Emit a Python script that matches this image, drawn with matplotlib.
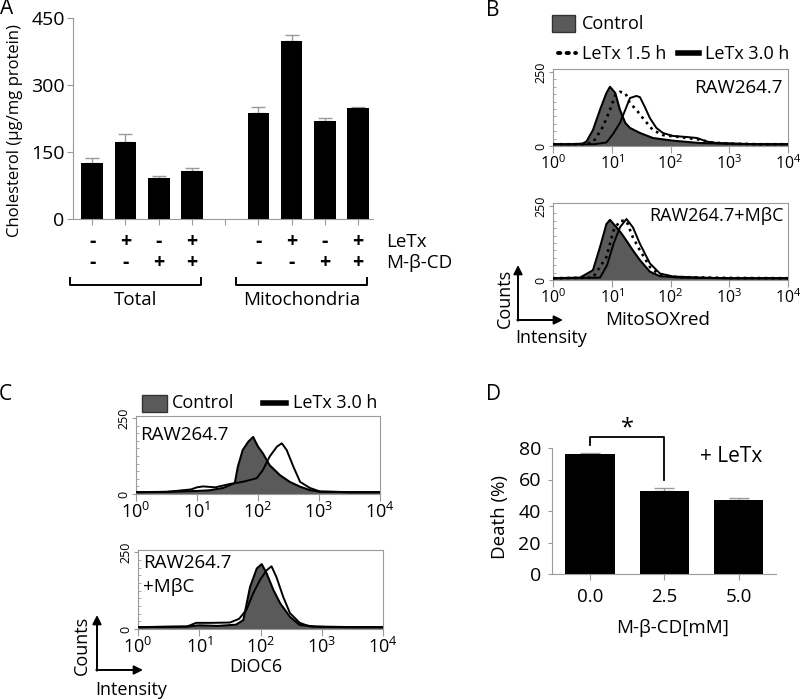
import numpy as np
import matplotlib
matplotlib.use("Agg")
import matplotlib.pyplot as plt
from matplotlib import transforms
from matplotlib.patches import Rectangle

plt.rcParams["font.family"] = ["Open Sans", "DejaVu Sans"]
plt.rcParams["mathtext.fontset"] = "custom"
plt.rcParams["mathtext.rm"] = "Open Sans"
plt.rcParams["mathtext.it"] = "Open Sans:italic"
plt.rcParams["mathtext.bf"] = "Open Sans:bold"

W, H = 800, 699
GRAY = "#9a9a9a"
FILL = "#5a5a5a"

# ── A : cholesterol ───────────────────────────────────────────
chol_pos  = [0, 1, 2, 3, 5, 6, 7, 8]
chol_mean = [126, 172, 92, 108, 237, 399, 220, 248]
chol_err  = [10, 18, 4, 6, 14, 13, 6, 3]
chol_letx = ["-", "+", "-", "+", "-", "+", "-", "+"]
chol_mbcd = ["-", "-", "+", "+", "-", "-", "+", "+"]
chol_groups = ["Total", "Mitochondria"]

# ── B : MitoSOXred histograms (log10 intensity, counts) ───────
b1_ctrl_log = [0.0, 0.3, 0.5, 0.57, 0.68, 0.80, 0.91, 0.97, 1.06, 1.14, 1.23, 1.31, 1.48, 1.70, 2.04, 2.5, 3.0, 3.5, 4.0]
b1_ctrl_cnt = [6, 6, 8, 15, 54, 122, 179, 200, 179, 122, 78, 61, 44, 27, 18, 10, 8, 6, 6]
b1_l15_log = [0.0, 0.5, 0.68, 0.85, 0.97, 1.06, 1.14, 1.23, 1.31, 1.42, 1.53, 1.70, 1.87, 2.16, 2.45, 2.7, 3.0, 3.5, 4.0]
b1_l15_cnt = [6, 6, 12, 65, 122, 172, 183, 179, 145, 122, 94, 54, 37, 30, 23, 12, 8, 6, 6]
b1_l30_log = [0.0, 0.7, 0.91, 1.02, 1.14, 1.23, 1.31, 1.42, 1.48, 1.56, 1.65, 1.76, 1.87, 2.04, 2.3, 2.45, 2.62, 2.8, 3.2, 4.0]
b1_l30_cnt = [6, 6, 12, 40, 78, 122, 162, 169, 165, 133, 94, 61, 44, 34, 30, 27, 15, 10, 7, 6]

b2_ctrl_log = [0.0, 0.46, 0.68, 0.80, 0.91, 0.97, 1.08, 1.17, 1.25, 1.36, 1.48, 1.65, 1.82, 2.2, 3.0, 4.0]
b2_ctrl_cnt = [6, 8, 33, 111, 189, 203, 178, 156, 133, 100, 67, 28, 13, 8, 6, 6]
b2_l15_log = [0.0, 0.68, 0.91, 1.03, 1.14, 1.25, 1.36, 1.48, 1.65, 1.82, 2.1, 3.0, 4.0]
b2_l15_cnt = [6, 8, 78, 167, 200, 200, 144, 100, 44, 17, 10, 7, 6]
b2_l30_log = [0.0, 0.8, 0.92, 1.03, 1.14, 1.25, 1.36, 1.48, 1.65, 1.82, 2.04, 2.5, 3.0, 4.0]
b2_l30_cnt = [6, 8, 50, 122, 178, 206, 178, 122, 56, 22, 12, 8, 6, 6]

# ── C : DiOC6 histograms ──────────────────────────────────────
c1_ctrl_log = [0.0, 0.5, 1.0, 1.2, 1.43, 1.62, 1.67, 1.75, 1.84, 1.92, 2.0, 2.08, 2.19, 2.36, 2.52, 2.69, 2.85, 3.0, 3.5, 4.0]
c1_ctrl_cnt = [6, 7, 10, 12, 20, 36, 90, 145, 172, 188, 156, 134, 95, 62, 40, 24, 13, 8, 6, 6]
c1_l30_log = [0.0, 0.5, 0.9, 1.0, 1.1, 1.3, 1.54, 1.75, 1.98, 2.08, 2.19, 2.31, 2.39, 2.47, 2.58, 2.69, 2.85, 3.02, 3.5, 4.0]
c1_l30_cnt = [6, 7, 15, 22, 25, 22, 33, 40, 52, 79, 123, 156, 167, 145, 90, 40, 20, 8, 6, 6]

c2_ctrl_log = [0.0, 0.8, 1.0, 1.3, 1.6, 1.72, 1.83, 1.94, 2.02, 2.10, 2.21, 2.32, 2.48, 2.64, 2.9, 3.5, 4.0]
c2_ctrl_cnt = [6, 8, 12, 10, 14, 29, 137, 197, 211, 181, 127, 84, 40, 13, 8, 6, 6]
c2_l30_log = [0.0, 0.8, 0.95, 1.2, 1.5, 1.65, 1.77, 1.88, 1.99, 2.10, 2.18, 2.26, 2.37, 2.48, 2.64, 2.81, 3.2, 4.0]
c2_l30_cnt = [6, 8, 20, 20, 21, 33, 62, 116, 159, 191, 204, 169, 105, 52, 20, 8, 6, 6]

decade_labels = [r"$10^{0}$", r"$10^{1}$", r"$10^{2}$", r"$10^{3}$", r"$10^{4}$"]

# ── D : death ─────────────────────────────────────────────────
mbcd_conc  = ["0.0", "2.5", "5.0"]
death_mean = [76, 53, 47]
death_err  = [0.7, 1.3, 1.4]


fig = plt.figure(figsize=(W / 100, H / 100), dpi=100)


def px_axes(l, t, r, b):
    return fig.add_axes([l / W, 1 - b / H, (r - l) / W, (b - t) / H])


# overlay in pixel coordinates for legends, arrows, panel letters
ov = fig.add_axes([0, 0, 1, 1])
ov.set_xlim(0, W)
ov.set_ylim(H, 0)
ov.axis("off")

for letter, x, y in [("A", 7, 9), ("B", 493, 10), ("C", 5, 395), ("D", 494, 395)]:
    ov.text(x, y, letter, fontsize=15, ha="center", va="center")

# ── Panel A ───────────────────────────────────────────────────
axA = px_axes(73, 18, 373, 219)
axA.bar(chol_pos, chol_mean, width=0.65, color="black", zorder=2)
axA.errorbar(chol_pos, chol_mean, yerr=[[0] * 8, chol_err], fmt="none",
             ecolor=GRAY, elinewidth=1, capsize=5, capthick=1, zorder=1)
axA.set_xlim(-0.58, 8.45)
axA.set_ylim(0, 450)
axA.set_yticks([0, 150, 300, 450])
axA.set_xticks(range(0, 9))
axA.set_xticklabels([])
axA.tick_params(axis="y", labelsize=14, color=GRAY, length=4, pad=2)
axA.tick_params(axis="x", color=GRAY, length=4)
for s in ["top", "right"]:
    axA.spines[s].set_visible(False)
for s in ["left", "bottom"]:
    axA.spines[s].set_color(GRAY)
axA.set_ylabel("Cholesterol (µg/mg protein)", fontsize=12)
axA.yaxis.set_label_coords(-0.165, 0.44)

trA = transforms.blended_transform_factory(axA.transData, axA.transAxes)
for p, a, m in zip(chol_pos, chol_letx, chol_mbcd):
    axA.text(p, -0.114, a, transform=trA, ha="center", va="center",
             fontsize=14, fontweight="bold")
    axA.text(p, -0.219, m, transform=trA, ha="center", va="center",
             fontsize=14, fontweight="bold")
axA.text(8.85, -0.114, "LeTx", transform=trA, ha="left", va="center", fontsize=13.5)
axA.text(8.85, -0.219, "M-β-CD", transform=trA, ha="left", va="center", fontsize=13.5)
for grp, lo, hi in [(chol_groups[0], chol_pos[0], chol_pos[3]),
                    (chol_groups[1], chol_pos[4], chol_pos[7])]:
    x0, x1 = lo - 0.67, hi + 0.27
    axA.plot([x0, x0, x1, x1], [-0.294, -0.328, -0.328, -0.294], color="black",
             lw=1.4, transform=trA, clip_on=False)
    axA.text((x0 + x1) / 2, -0.405, grp, transform=trA, ha="center", va="center",
             fontsize=13.5)


# ── flow histogram helper ─────────────────────────────────────
def flow_axes(rect, ymax, labelsize):
    ax = px_axes(*rect)
    ax.set_xscale("log")
    ax.set_xlim(1, 1e4)
    ax.set_ylim(0, ymax)
    for s in ax.spines.values():
        s.set_color(GRAY)
        s.set_linewidth(0.8)
    ax.set_xticks([1, 10, 100, 1000, 10000])
    ax.set_xticklabels(decade_labels)
    ax.tick_params(axis="x", which="major", length=5, color=GRAY, labelsize=labelsize, pad=1)
    ax.tick_params(axis="x", which="minor", length=3, color=GRAY)
    ax.set_yticks([0, 250])
    ax.set_yticklabels(["0", "250"], rotation=90, va="center")
    ax.set_yticks(np.arange(25, 250, 25), minor=True)
    ax.tick_params(axis="y", which="major", length=3, color=GRAY, labelsize=9, pad=1)
    ax.tick_params(axis="y", which="minor", length=2.5, direction="in", color=GRAY)
    return ax


def draw_ctrl(ax, lg, cnt):
    x = np.power(10.0, lg)
    ax.fill_between(x, cnt, 0, color=FILL, lw=0, zorder=2)
    ax.plot(x, cnt, color="black", lw=1.5, zorder=3)


def draw_line(ax, lg, cnt, ls):
    ax.plot(np.power(10.0, lg), cnt, color="black", lw=1.4 if ls == "-" else 1.9,
            linestyle=ls, zorder=4)


# ── Panel B ───────────────────────────────────────────────────
axB1 = flow_axes((553, 69, 788, 146), 260, 11.5)
draw_ctrl(axB1, b1_ctrl_log, b1_ctrl_cnt)
draw_line(axB1, b1_l15_log, b1_l15_cnt, ":")
draw_line(axB1, b1_l30_log, b1_l30_cnt, "-")
axB1.text(0.975, 0.75, "RAW264.7", transform=axB1.transAxes, ha="right", va="center", fontsize=13.5)

axB2 = flow_axes((553, 203, 788, 280), 260, 11.5)
draw_ctrl(axB2, b2_ctrl_log, b2_ctrl_cnt)
draw_line(axB2, b2_l15_log, b2_l15_cnt, ":")
draw_line(axB2, b2_l30_log, b2_l30_cnt, "-")
axB2.text(0.98, 0.83, "RAW264.7+MβC", transform=axB2.transAxes, ha="right", va="center", fontsize=13)

ov.add_patch(Rectangle((552, 15), 23, 17, facecolor=FILL, edgecolor="#333333", lw=1))
ov.text(582, 24, "Control", fontsize=13, va="center")
ov.plot([558, 576], [53, 53], color="black", lw=2.8, linestyle=(0, (0.6, 1.6)),
        dash_capstyle="round")
ov.text(582, 54, "LeTx 1.5 h", fontsize=13, va="center")
ov.plot([678, 699], [53, 53], color="black", lw=4)
ov.text(705, 54, "LeTx 3.0 h", fontsize=13, va="center")
ov.text(658, 320, "MitoSOXred", fontsize=13.5, ha="center", va="center")

# ── Panel C ───────────────────────────────────────────────────
axC1 = flow_axes((136, 416, 380, 494), 257, 13)
draw_ctrl(axC1, c1_ctrl_log, c1_ctrl_cnt)
draw_line(axC1, c1_l30_log, c1_l30_cnt, "-")
axC1.text(0.016, 0.76, "RAW264.7", transform=axC1.transAxes, ha="left", va="center", fontsize=13.5)

axC2 = flow_axes((138, 550, 383, 629), 257, 13)
draw_ctrl(axC2, c2_ctrl_log, c2_ctrl_cnt)
draw_line(axC2, c2_l30_log, c2_l30_cnt, "-")
axC2.text(0.02, 0.84, "RAW264.7", transform=axC2.transAxes, ha="left", va="center", fontsize=13.5)
axC2.text(0.02, 0.53, "+MβC", transform=axC2.transAxes, ha="left", va="center", fontsize=13.5)

ov.add_patch(Rectangle((142, 395), 25, 17, facecolor=FILL, edgecolor="#333333", lw=1))
ov.text(172, 403, "Control", fontsize=13, va="center")
ov.plot([263, 286], [403, 403], color="black", lw=4)
ov.text(293, 403, "LeTx 3.0 h", fontsize=13, va="center")
ov.text(256, 667, "DiOC6", fontsize=13, ha="center", va="center")

# Counts / Intensity arrows
for x0, y0, top, right, cx, cy, ix, iy in [(518, 320, 265, 563, 505, 298, 551, 338),
                                           (97, 670, 615, 143, 82, 645, 131, 690)]:
    ov.annotate("", xy=(x0, top), xytext=(x0, y0 + 0.7),
                arrowprops=dict(arrowstyle="-|>", color="black", lw=1.4,
                                mutation_scale=13, shrinkA=0, shrinkB=0))
    ov.annotate("", xy=(right, y0), xytext=(x0 - 0.7, y0),
                arrowprops=dict(arrowstyle="-|>", color="black", lw=1.4,
                                mutation_scale=13, shrinkA=0, shrinkB=0))
    ov.text(cx, cy, "Counts", rotation=90, fontsize=13, ha="center", va="center")
    ov.text(ix, iy, "Intensity", fontsize=13, ha="center", va="center")

# ── Panel D ───────────────────────────────────────────────────
axD = px_axes(552, 448, 776, 574)
d_pos = np.arange(len(death_mean))
axD.bar(d_pos, death_mean, width=0.66, color="black", zorder=2)
axD.errorbar(d_pos, death_mean, yerr=[[0] * 3, death_err], fmt="none",
             ecolor=GRAY, elinewidth=1, capsize=7, capthick=1, zorder=1)
axD.set_xlim(-0.51, 2.5)
axD.set_ylim(0, 80)
axD.set_yticks([0, 20, 40, 60, 80])
axD.set_xticks(d_pos)
axD.set_xticklabels(mbcd_conc)
axD.tick_params(axis="y", labelsize=14, color=GRAY, length=3, pad=5)
axD.tick_params(axis="x", labelsize=13.5, color=GRAY, length=4, pad=6)
for s in ["top", "right"]:
    axD.spines[s].set_visible(False)
for s in ["left", "bottom"]:
    axD.spines[s].set_color(GRAY)
axD.set_ylabel("Death (%)", fontsize=13.5)
axD.yaxis.set_label_coords(-0.19, 0.45)
axD.set_xlabel("M-β-CD[mM]", fontsize=13.5)
axD.xaxis.set_label_coords(0.54, -0.36)
axD.plot([d_pos[0], d_pos[0], d_pos[1], d_pos[1]], [82, 87, 87, 60],
         color="black", lw=1.3, clip_on=False)
axD.text((d_pos[0] + d_pos[1]) / 2, 92.5, "*", ha="center", va="center", fontsize=17)
axD.text(0.66, 0.93, "+ LeTx", transform=axD.transAxes, ha="left", va="center", fontsize=15)

fig.savefig("out.png", dpi=100)
